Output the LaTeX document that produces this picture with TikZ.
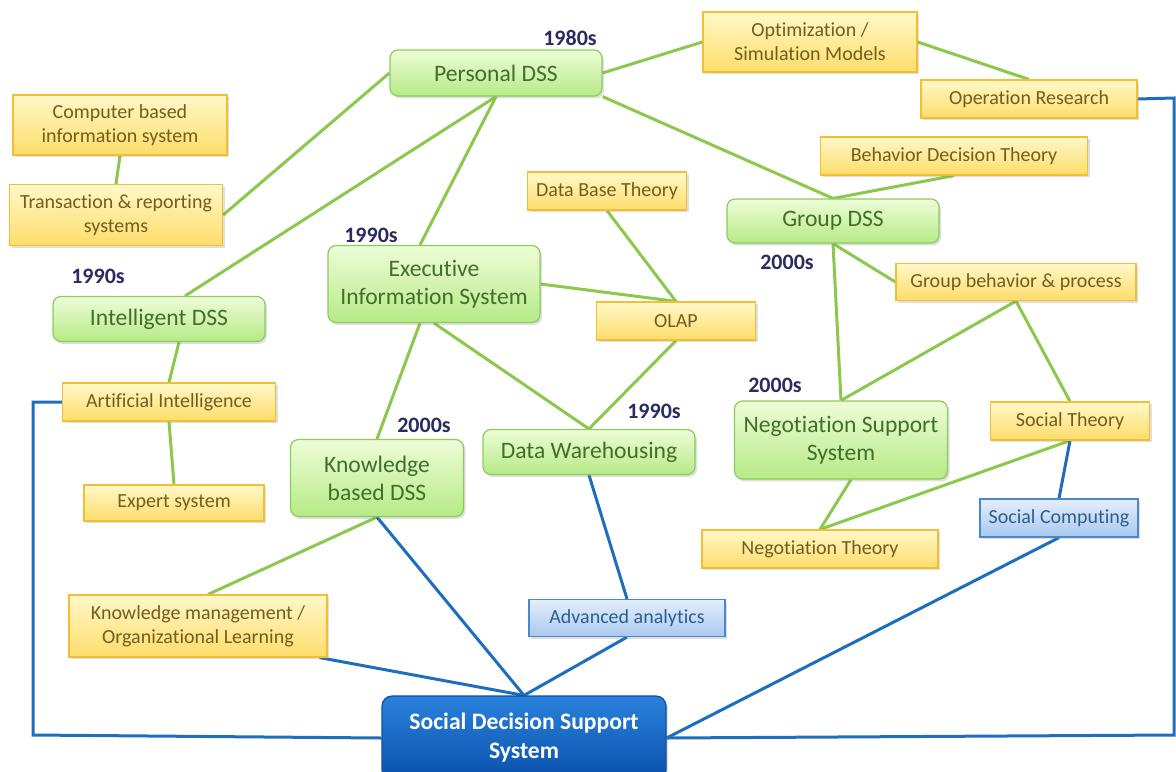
\documentclass[tikz,border=0pt]{standalone}
\usepackage{fontspec}
\setmainfont[Ligatures={NoCommon}]{Carlito}
\usetikzlibrary{shadows,backgrounds,calc}
\definecolor{gtop}{HTML}{EEFDD8}
\definecolor{gbot}{HTML}{B6EA86}
\definecolor{gdraw}{HTML}{8CCB5E}
\definecolor{gtext}{HTML}{40702A}
\definecolor{ytop}{HTML}{FFF8C8}
\definecolor{ybot}{HTML}{FDDD6A}
\definecolor{ydraw}{HTML}{F2BE36}
\definecolor{ytext}{HTML}{735E1E}
\definecolor{btop}{HTML}{E4EEFC}
\definecolor{bbot}{HTML}{A9C8F0}
\definecolor{bdraw}{HTML}{4A88CC}
\definecolor{btext}{HTML}{2C5F8E}
\definecolor{gline}{HTML}{8CC84E}
\definecolor{bline}{HTML}{1E6EBE}
\definecolor{stop}{HTML}{2A82DC}
\definecolor{sbot}{HTML}{0A50AA}
\definecolor{datec}{HTML}{2A2B60}
\tikzset{
  base/.style={inner sep=0pt, align=center, drop shadow={opacity=0.25, shadow xshift=1pt, shadow yshift=-1.2pt}},
  gbox/.style={base, rounded corners=4pt, shading=axis, top color=gtop, bottom color=gbot, draw=gdraw, line width=0.6pt, text=gtext, font=\fontsize{11.8}{14}\selectfont},
  ybox/.style={base, shading=axis, top color=ytop, bottom color=ybot, draw=ydraw, line width=0.6pt, text=ytext, font=\fontsize{10}{12}\selectfont},
  bbox/.style={base, shading=axis, top color=btop, bottom color=bbot, draw=bdraw, line width=0.6pt, text=btext, font=\fontsize{10}{12}\selectfont},
  sbox/.style={base, rounded corners=5pt, shading=axis, top color=stop, bottom color=sbot, draw=sbot, line width=0.6pt, text=white, font=\fontsize{11.8}{14.5}\selectfont\bfseries},
  datel/.style={inner sep=0pt, text=datec, font=\fontsize{11}{13}\selectfont\bfseries},
  gl/.style={draw=gline, line width=1.5pt},
  bl/.style={draw=bline, line width=1.5pt},
}
\begin{document}
\begin{tikzpicture}[x=0.5pt,y=-0.5pt]
\useasboundingbox (0,0) rectangle (1176,771);
% nodes
\node[gbox, minimum width=106pt, minimum height=23pt] (pdss) at (496,73) {Personal DSS};
\node[ybox, minimum width=107pt, minimum height=30pt] (opt) at (810,42) {Optimization /\\Simulation Models};
\node[ybox, minimum width=108pt, minimum height=19pt] (or) at (1029,99) {Operation Research};
\node[ybox, minimum width=107pt, minimum height=30pt] (cbis) at (120,125) {Computer based\\information system};
\node[ybox, minimum width=106.5pt, minimum height=30.5pt] (trans) at (116,215) {Transaction \& reporting\\systems};
\node[ybox, minimum width=133.5pt, minimum height=19pt] (bdt) at (954,156) {Behavior Decision Theory};
\node[ybox, minimum width=79.5pt, minimum height=19pt] (dbt) at (607,191) {Data Base Theory};
\node[gbox, minimum width=106pt, minimum height=22pt] (gdss) at (833,221) {Group DSS};
\node[gbox, minimum width=106pt, minimum height=38.5pt] (eis) at (434,284) {Executive\\Information System};
\node[ybox, minimum width=120pt, minimum height=18.5pt] (gbp) at (1016,282) {Group behavior \& process};
\node[gbox, minimum width=106pt, minimum height=22.5pt] (idss) at (159,319) {Intelligent DSS};
\node[ybox, minimum width=79.5pt, minimum height=19pt] (olap) at (676,321) {OLAP};
\node[ybox, minimum width=106.5pt, minimum height=19pt] (ai) at (169,402) {Artificial Intelligence};
\node[ybox, minimum width=79.5pt, minimum height=19pt] (st) at (1070,421) {Social Theory};
\node[gbox, minimum width=106.5pt, minimum height=39pt] (nss) at (841,440) {Negotiation Support\\System};
\node[gbox, minimum width=86.5pt, minimum height=38.5pt] (kbdss) at (377,478) {Knowledge\\based DSS};
\node[gbox, minimum width=106pt, minimum height=22.5pt] (dw) at (589,452) {Data Warehousing};
\node[ybox, minimum width=90pt, minimum height=18pt] (es) at (174,503) {Expert system};
\node[bbox, minimum width=79pt, minimum height=19pt] (sc) at (1059,518) {Social Computing};
\node[ybox, minimum width=118pt, minimum height=19pt] (nt) at (820,549) {Negotiation Theory};
\node[ybox, minimum width=129pt, minimum height=31pt] (km) at (198,626) {Knowledge management /\\Organizational Learning};
\node[bbox, minimum width=98pt, minimum height=18.5pt] (aa) at (627,618) {Advanced analytics};
\node[sbox, minimum width=142pt, minimum height=42pt] (sdss) at (524,738) {Social Decision Support\\System};
% dates
\node[datel] (d1) at (570,38) {1980s};
\node[datel] (d2) at (371,235) {1990s};
\node[datel] (d3) at (98,276) {1990s};
\node[datel] (d4) at (787,262) {2000s};
\node[datel] (d5) at (775,385) {2000s};
\node[datel] (d6) at (424,425) {2000s};
\node[datel] (d7) at (654,411) {1990s};
\coordinate (lc1) at (33,402);
\coordinate (lc2) at (33,735);
\coordinate (rc1) at (1174,98);
\coordinate (rc2) at (1174,735);
\begin{scope}[on background layer]
% green connectors
\draw[gl] (pdss.east) -- (opt.west);
\draw[gl] (opt.east) -- (or.north);
\draw[gl] (pdss.west) -- (trans.east);
\draw[gl] (cbis.south) -- (trans.north);
\draw[gl] (pdss.south) -- ($(idss.north)+(26,0)$);
\draw[gl] (pdss.south) -- ($(eis.north)+(-14,0)$);
\draw[gl] (pdss.south east) -- (gdss.north);
\draw[gl] (bdt.south) -- (gdss.north);
\draw[gl] (dbt.south) -- (olap.north);
\draw[gl] (eis.east) -- (olap.north);
\draw[gl] (eis.south) -- (dw.north);
\draw[gl] ($(eis.south)+(-14,0)$) -- (kbdss.north);
\draw[gl] (olap.south) -- (dw.north);
\draw[gl] (gdss.south) -- (gbp.west);
\draw[gl] (gdss.south) -- (nss.north);
\draw[gl] (gbp.south) -- (nss.north);
\draw[gl] (gbp.south) -- (st.north);
\draw[gl] (st.south) -- (nt.north);
\draw[gl] ($(nss.south)+(10,0)$) -- (nt.north);
\draw[gl] ($(idss.south)+(20,0)$) -- (ai.north);
\draw[gl] (ai.south) -- (es.north);
\draw[gl] (kbdss.south) -- ($(km.north)+(10,0)$);
% blue connectors
\draw[bl] (kbdss.south) -- (sdss.north);
\draw[bl] ($(km.south east)+(-8,0)$) -- (sdss.north);
\draw[bl] (dw.south) -- (aa.north);
\draw[bl] (aa.south) -- (sdss.north);
\draw[bl] (st.south) -- (sc.north);
\draw[bl] (sc.south) -- (sdss.east);
\draw[bl] (or.east) -- (rc1) -- (rc2) -- (sdss.east);
\draw[bl] (ai.west) -- (lc1) -- (lc2) -- (sdss.west);
\end{scope}
\end{tikzpicture}
\end{document}
